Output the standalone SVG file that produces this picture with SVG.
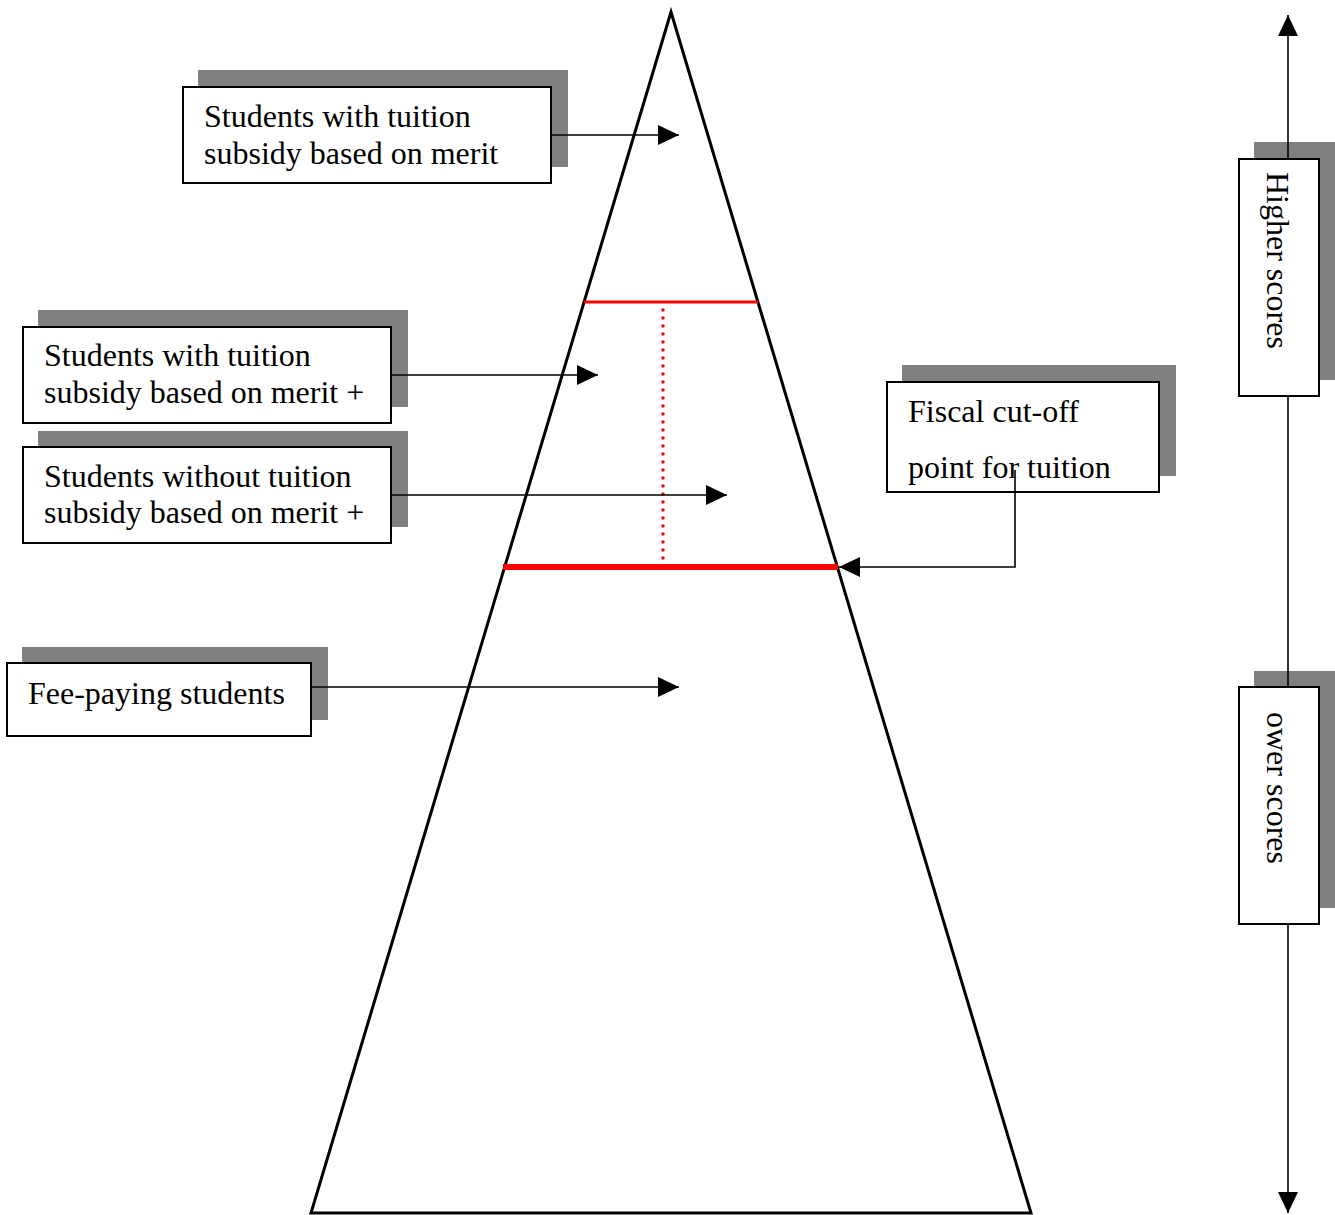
<svg xmlns="http://www.w3.org/2000/svg" width="1335" height="1215" viewBox="0 0 1335 1215">
<defs>
<marker id="ah" markerUnits="userSpaceOnUse" markerWidth="21" markerHeight="20" refX="21" refY="10" orient="auto"><path d="M0,0 L21,10 L0,20 z" fill="#000"/></marker>
<style>
.sh{fill:#808080;stroke:none}
.bx{fill:#fff;stroke:#000;stroke-width:2}
.t{font-family:"Liberation Serif","Times New Roman",serif;font-size:32px;fill:#000}
.c{fill:none;stroke:#000;stroke-width:1.6}
</style>
</defs>
<rect width="1335" height="1215" fill="#fff"/>
<g id="pyramid">
<polygon points="671,12 311,1213 1031,1213" fill="none" stroke="#000" stroke-width="3"/>
<line x1="584" y1="302" x2="758" y2="302" stroke="#f00" stroke-width="3"/>
<line x1="663" y1="310" x2="663" y2="562" stroke="#f00" stroke-width="3.5" stroke-dasharray="0 8" stroke-linecap="round"/>
<line x1="503" y1="567" x2="838" y2="567" stroke="#f00" stroke-width="6"/>
</g>
<g id="node-merit">
<rect class="sh" x="198" y="70" width="370" height="97"/>
<rect class="bx" x="183" y="87" width="368" height="96"/>
<text class="t" x="204" y="127">Students with tuition</text>
<text class="t" x="204" y="164">subsidy based on merit</text>
</g>
<g id="node-merit-plus">
<rect class="sh" x="38" y="310" width="370" height="97"/>
<rect class="bx" x="23" y="327" width="368" height="96"/>
<text class="t" x="44" y="366">Students with tuition</text>
<text class="t" x="44" y="403">subsidy based on merit +</text>
</g>
<g id="node-without">
<rect class="sh" x="38" y="431" width="370" height="96"/>
<rect class="bx" x="23" y="447" width="368" height="96"/>
<text class="t" x="44" y="487">Students without tuition</text>
<text class="t" x="44" y="523">subsidy based on merit +</text>
</g>
<g id="node-fee">
<rect class="sh" x="22" y="647" width="306" height="73"/>
<rect class="bx" x="7" y="663" width="304" height="73"/>
<text class="t" x="28" y="704">Fee-paying students</text>
</g>
<g id="node-fiscal">
<rect class="sh" x="902" y="365" width="274" height="111"/>
<rect class="bx" x="887" y="382" width="272" height="110"/>
<text class="t" x="908" y="422">Fiscal cut-off</text>
<text class="t" x="908" y="478">point for tuition</text>
</g>
<g id="node-higher">
<rect class="sh" x="1254" y="142" width="81" height="238"/>
<rect class="bx" x="1239" y="159" width="80" height="237"/>
<text class="t" transform="translate(1267,172) rotate(90)">Higher scores</text>
</g>
<g id="node-lower">
<rect class="sh" x="1254" y="671" width="81" height="237"/>
<rect class="bx" x="1239" y="687" width="80" height="237"/>
<text class="t" transform="translate(1267,712) rotate(90)">ower scores</text>
</g>
<g id="connectors">
<line class="c" x1="551" y1="135" x2="679" y2="135" marker-end="url(#ah)"/>
<line class="c" x1="391" y1="375" x2="598" y2="375" marker-end="url(#ah)"/>
<line class="c" x1="391" y1="495" x2="727" y2="495" marker-end="url(#ah)"/>
<line class="c" x1="311" y1="687" x2="679" y2="687" marker-end="url(#ah)"/>
<polyline class="c" points="1015,470 1015,567 839,567" marker-end="url(#ah)"/>
<line class="c" x1="1288" y1="159" x2="1288" y2="15" marker-end="url(#ah)"/>
<line class="c" x1="1288" y1="396" x2="1288" y2="687"/>
<line class="c" x1="1288" y1="924" x2="1288" y2="1213" marker-end="url(#ah)"/>
</g>
</svg>
